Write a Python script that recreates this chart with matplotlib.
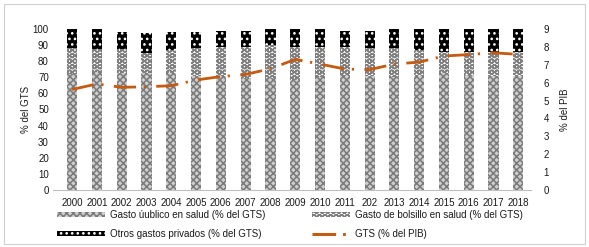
import numpy as np
import matplotlib
matplotlib.use("Agg")
import matplotlib.pyplot as plt
from matplotlib.patches import Rectangle
from matplotlib.lines import Line2D

plt.rcParams['font.family'] = ['Liberation Sans', 'DejaVu Sans']
plt.rcParams['lines.scale_dashes'] = False
plt.rcParams['hatch.linewidth'] = 1.1

years = ["2000", "2001", "2002", "2003", "2004", "2005", "2006", "2007", "2008", "2009",
         "2010", "2011", "202", "2013", "2014", "2015", "2016", "2017", "2018"]

# % del GTS
publico = [72, 73, 72.5, 72.5, 72.5, 70.5, 70.5, 69.5, 69.5, 68.5,
           70, 71.5, 70.5, 70, 70.5, 72.5, 71.5, 71, 71]
bolsillo = [16, 14.4, 14.9, 12.5, 14.5, 17.5, 18.5, 19.5, 20.5, 20.5,
            19, 17.1, 17.5, 18, 16.5, 13.5, 14.5, 15, 15]
otros = [12, 12.6, 10.6, 12.5, 11, 10, 10, 9.5, 10, 11,
         11, 10.2, 11, 12, 13, 14, 14, 14, 14]

# % del PIB
gts_pib = [5.62, 5.93, 5.74, 5.77, 5.83, 6.15, 6.34, 6.46, 6.78, 7.3,
           7.04, 6.76, 6.73, 7.04, 7.15, 7.49, 7.57, 7.67, 7.58]

lbl_pub = "Gasto úublico en salud (% del GTS)"
lbl_bol = "Gasto de bolsillo en salud (% del GTS)"
lbl_otr = "Otros gastos privados (% del GTS)"
lbl_gts = "GTS (% del PIB)"

orange = "#c55a11"
txt = "#1a1a1a"

# bar styles
sty_pub = dict(facecolor="#cfcfcf", edgecolor="#7a7a7a", hatch="xxxxx", linewidth=0)
sty_bol = dict(facecolor="white", edgecolor="#7f7f7f", hatch="OOO", linewidth=0)
sty_otr = dict(facecolor="black", edgecolor="white", hatch="...", linewidth=0)

fig = plt.figure(figsize=(5.89, 2.47), dpi=100)
ax = fig.add_axes([0.09, 0.2308, 0.8115, 0.6518])

x = np.arange(len(years))
pub = np.array(publico)
bol = np.array(bolsillo)
w = 0.41
ax.bar(x, pub, width=w, **sty_pub)
ax.bar(x, bol, width=w, bottom=pub, **sty_bol)
ax.bar(x, otros, width=w, bottom=pub + bol, **sty_otr)

ax.set_ylim(0, 100)
ax.set_xlim(-0.77, 18.51)
ax.set_yticks(range(0, 101, 10))
ax.set_xticks(x)
ax.set_xticklabels(years)
ax.tick_params(axis="both", length=0, labelsize=7, colors=txt)
ax.tick_params(axis="x", pad=6)
ax.tick_params(axis="y", pad=3)
for s in ["top", "left", "right"]:
    ax.spines[s].set_visible(False)
ax.spines["bottom"].set_color("#bfbfbf")
ax.spines["bottom"].set_linewidth(0.8)
ax.set_ylabel("% del GTS", fontsize=7, color=txt, labelpad=1)

ax2 = ax.twinx()
ln, = ax2.plot(x, gts_pib, color=orange, linewidth=2.0, dash_capstyle="butt")
ln.set_dashes((16, 5.5, 1.6, 7.5))
ax2.set_ylim(0, 9)
ax2.set_yticks(range(0, 10))
ax2.tick_params(axis="y", length=0, labelsize=7, colors=txt, pad=9)
for s in ax2.spines.values():
    s.set_visible(False)
ax2.set_ylabel("% del PIB", fontsize=7, color=txt, labelpad=8)

# legend: two columns placed separately
h_pub = Rectangle((0, 0), 1, 1, **sty_pub)
h_bol = Rectangle((0, 0), 1, 1, **sty_bol)
h_otr = Rectangle((0, 0), 1, 1, **sty_otr)
h_gts = Line2D([], [], color=orange, linewidth=2.2, dashes=(17, 5, 2, 20), dash_capstyle="butt")

leg1 = fig.legend([h_pub, h_otr], [lbl_pub, lbl_otr], loc="upper left",
                  bbox_to_anchor=(57 / 589, 1 - 210 / 247), frameon=False, fontsize=7,
                  handlelength=4.9, handleheight=0.45, handletextpad=0.55,
                  borderpad=0, borderaxespad=0, labelspacing=0.95)
leg2 = fig.legend([h_bol, h_gts], [lbl_bol, lbl_gts], loc="upper left",
                  bbox_to_anchor=(312 / 589, 1 - 210 / 247), frameon=False, fontsize=7,
                  handlelength=3.9, handleheight=0.45, handletextpad=0.55,
                  borderpad=0, borderaxespad=0, labelspacing=0.95)
for lg in (leg1, leg2):
    for t in lg.get_texts():
        t.set_color(txt)

fig.add_artist(Rectangle((4 / 589, 3 / 247), 581 / 589, 240 / 247, transform=fig.transFigure,
                         fill=False, edgecolor="#d0d0d0", linewidth=0.8))

fig.savefig("out.png", dpi=100)
